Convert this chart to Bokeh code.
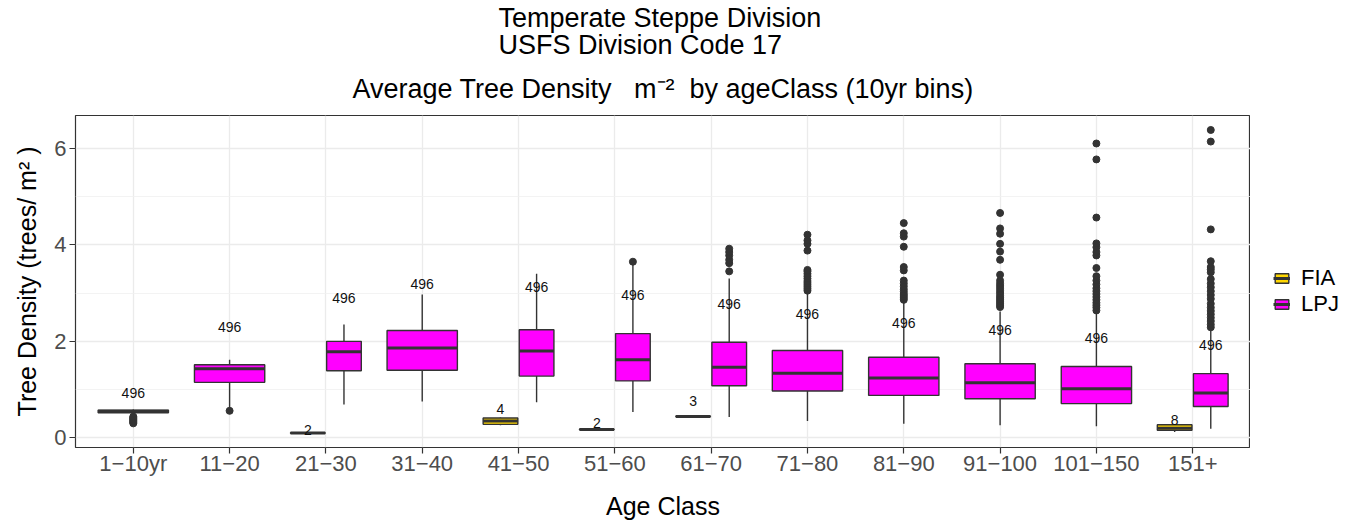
from bokeh.plotting import figure
from bokeh.layouts import row
from bokeh.models import ColumnDataSource, Range1d, FixedTicker, Title, Legend, LegendItem
from bokeh.embed import file_html
from bokeh.resources import INLINE
from bokeh.core.properties import value

categories = ["1−10yr", "11−20", "21−30", "31−40", "41−50", "51−60", "61−70",
              "71−80", "81−90", "91−100", "101−150", "151+"]

# LPJ boxes (one per age class)
lpj_low = [0.47, 0.62, 0.69, 0.755, 0.74, 0.535, 0.43, 0.35, 0.29, 0.26, 0.24, 0.19]
lpj_q1 = [0.52, 1.15, 1.39, 1.40, 1.28, 1.18, 1.08, 0.97, 0.88, 0.81, 0.71, 0.65]
lpj_med = [0.55, 1.43, 1.785, 1.86, 1.80, 1.62, 1.465, 1.34, 1.24, 1.14, 1.02, 0.93]
lpj_q3 = [0.575, 1.515, 2.00, 2.225, 2.24, 2.16, 1.98, 1.81, 1.67, 1.535, 1.48, 1.33]
lpj_high = [0.59, 1.62, 2.35, 2.97, 3.40, 3.58, 3.30, 3.02, 2.82, 2.62, 2.60, 2.25]
lpj_n = [496, 496, 496, 496, 496, 496, 496, 496, 496, 496, 496, 496]
lpj_label_y = [0.93, 2.29, 2.90, 3.18, 3.12, 2.96, 2.78, 2.57, 2.39, 2.24, 2.07, 1.92]
lpj_outliers = [
    [0.30, 0.32, 0.34, 0.36, 0.38, 0.40, 0.42, 0.44],
    [0.56],
    [],
    [],
    [],
    [3.65],
    [3.45, 3.62, 3.69, 3.78, 3.85, 3.92],
    [3.05, 3.09, 3.13, 3.17, 3.21, 3.25, 3.30, 3.35, 3.40, 3.45, 3.48, 3.88, 4.02, 4.09, 4.21],
    [2.86, 2.90, 2.94, 2.98, 3.03, 3.08, 3.14, 3.20, 3.26, 3.47, 3.54, 3.96, 4.17, 4.24, 4.45],
    [2.71, 2.75, 2.79, 2.83, 2.87, 2.91, 2.95, 3.00, 3.05, 3.10, 3.15, 3.20, 3.26, 3.38,
     3.69, 3.86, 4.02, 4.23, 4.34, 4.66],
    [2.64, 2.70, 2.75, 2.80, 2.86, 2.92, 2.98, 3.04, 3.10, 3.18, 3.26, 3.35, 3.52, 3.78,
     3.85, 3.95, 4.03, 4.565, 5.77, 6.10],
    [2.29, 2.35, 2.42, 2.49, 2.56, 2.63, 2.70, 2.78, 2.88, 2.96, 3.04, 3.12, 3.20, 3.29,
     3.43, 3.49, 3.54, 3.66, 4.32, 6.14, 6.38],
]

# FIA boxes (only some age classes)
fia_categories = ["21−30", "41−50", "51−60", "61−70", "151+"]
fia_low = [0.09, 0.26, 0.165, 0.435, 0.12]
fia_q1 = [0.095, 0.28, 0.17, 0.44, 0.155]
fia_med = [0.10, 0.35, 0.175, 0.445, 0.20]
fia_q3 = [0.105, 0.41, 0.18, 0.45, 0.27]
fia_high = [0.11, 0.42, 0.185, 0.455, 0.28]
fia_n = [2, 4, 2, 3, 8]
fia_label_y = [0.17, 0.60, 0.31, 0.76, 0.36]

series_names = ["FIA", "LPJ"]
y_ticks = [0, 2, 4, 6]

# ---- layout helpers ----
FONT = "Liberation Sans"
DARK = "#333333"
NB = "\u00a0"
idx = {c: i + 1 for i, c in enumerate(categories)}
dodged = set(fia_categories)
DODGE = 0.1875
W_SINGLE = 0.73
W_DODGED = 0.36
colors = {"FIA": "#FFD700", "LPJ": "#FF00FF"}


def make_source(xs, ws, low, q1, med, q3, high, n, ly):
    return ColumnDataSource(dict(
        x=xs, left=[x - w / 2 for x, w in zip(xs, ws)], right=[x + w / 2 for x, w in zip(xs, ws)],
        low=low, q1=q1, med=med, q3=q3, high=high, n=[str(v) for v in n], ly=ly))


lpj_x = [idx[c] + (DODGE if c in dodged else 0.0) for c in categories]
lpj_w = [W_DODGED if c in dodged else W_SINGLE for c in categories]
fia_x = [idx[c] - DODGE for c in fia_categories]
fia_w = [W_DODGED for _ in fia_categories]

lpj_src = make_source(lpj_x, lpj_w, lpj_low, lpj_q1, lpj_med, lpj_q3, lpj_high, lpj_n, lpj_label_y)
fia_src = make_source(fia_x, fia_w, fia_low, fia_q1, fia_med, fia_q3, fia_high, fia_n, fia_label_y)
sources = {"FIA": fia_src, "LPJ": lpj_src}

ox, oy = [], []
for x, outs in zip(lpj_x, lpj_outliers):
    for v in outs:
        ox.append(x)
        oy.append(v)

p = figure(width=1250, height=524, output_backend="svg", toolbar_location=None,
           x_range=Range1d(0.4, 12.6), y_range=Range1d(-0.2, 6.68),
           min_border_left=75, min_border_right=0, min_border_top=115, min_border_bottom=77,
           title=None)
p.background_fill_color = "white"
p.border_fill_color = "white"
p.outline_line_color = DARK
p.outline_line_width = 1.2

# grid
p.xgrid.ticker = FixedTicker(ticks=list(range(1, len(categories) + 1)))
p.xgrid.grid_line_color = "#EBEBEB"
p.xgrid.grid_line_width = 1.3
p.ygrid.ticker = FixedTicker(ticks=y_ticks, minor_ticks=[1, 3, 5])
p.ygrid.grid_line_color = "#EBEBEB"
p.ygrid.grid_line_width = 1.3
p.ygrid.minor_grid_line_color = "#F0F0F0"
p.ygrid.minor_grid_line_width = 0.8

# axes
p.xaxis.ticker = FixedTicker(ticks=list(range(1, len(categories) + 1)))
p.xaxis.major_label_overrides = {i + 1: c for i, c in enumerate(categories)}
p.yaxis.ticker = FixedTicker(ticks=y_ticks)
for ax in (p.xaxis, p.yaxis):
    ax.axis_line_color = None
    ax.major_tick_line_color = DARK
    ax.major_tick_line_width = 1.2
    ax.major_tick_out = 6
    ax.major_tick_in = 0
    ax.minor_tick_line_color = None
    ax.major_label_text_font = FONT
    ax.major_label_text_font_size = "22px"
    ax.major_label_text_color = "#4D4D4D"
    ax.axis_label_text_font = FONT
    ax.axis_label_text_font_size = "25px"
    ax.axis_label_text_font_style = "normal"
    ax.axis_label_text_color = "black"
p.xaxis.axis_label = "Age Class"
p.yaxis.axis_label = "Tree Density (trees/ m² )"
p.xaxis.major_label_standoff = -3
p.yaxis.major_label_standoff = 3
p.xaxis.axis_label_standoff = 13
p.yaxis.axis_label_standoff = 10

# boxes
for name in series_names:
    src = sources[name]
    p.segment(x0="x", y0="low", x1="x", y1="q1", source=src, line_color=DARK, line_width=1.4)
    p.segment(x0="x", y0="q3", x1="x", y1="high", source=src, line_color=DARK, line_width=1.4)
    p.quad(left="left", right="right", bottom="q1", top="q3", source=src,
           fill_color=colors[name], line_color=DARK, line_width=1.4)
    p.segment(x0="left", y0="med", x1="right", y1="med", source=src,
              line_color=DARK, line_width=3)

p.scatter(ox, oy, size=7, color=DARK, marker="circle")

for name in series_names:
    p.text(x="x", y="ly", text="n", source=sources[name], text_align="center",
           text_baseline="middle", text_font=value(FONT), text_font_size="14px",
           text_color="#111111")

# titles
t3 = Title(text="Average Tree Density" + NB * 3 + "m⁻²" + NB * 2 + "by ageClass (10yr bins)",
           align="center", text_font=FONT, text_font_size="27px", text_font_style="normal",
           text_color="black", standoff=23)
t12 = Title(text="Temperate Steppe Division\nUSFS Division Code 17", align="left", offset=423,
            text_color="black", text_font=FONT, text_font_size="27px", text_font_style="normal",
            text_line_height=0.91, standoff=0)
p.add_layout(t3, "above")
p.add_layout(t12, "above")

# legend panel (separate narrow figure on the right; its view range shows no boxes,
# the legend keys reuse the real FIA / LPJ box styling)
lg = figure(width=98, height=524, output_backend="svg", toolbar_location=None,
            x_range=Range1d(-20, -19), y_range=Range1d(-20, -19), min_border=0,
            x_axis_location=None, y_axis_location=None, title=None)
lg.outline_line_color = None
lg.grid.visible = False
lg.background_fill_color = "white"
lg.border_fill_color = "white"
items = []
for name in series_names:
    src = sources[name]
    qr = lg.quad(left="left", right="right", bottom="q1", top="q3", source=src,
                 fill_color=colors[name], line_color=DARK, line_width=1.4)
    mr = lg.segment(x0="left", y0="med", x1="right", y1="med", source=src,
                    line_color=DARK, line_width=3)
    items.append(LegendItem(label=name, renderers=[qr, mr]))
legend = Legend(items=items, location=(23, 130), padding=0, margin=0, spacing=0,
                label_height=22, glyph_height=12, glyph_width=17, label_standoff=11,
                label_text_font=FONT, label_text_font_size="22px", label_text_color="black",
                border_line_color=None, background_fill_alpha=0)
lg.add_layout(legend, "center")

layout = row(p, lg)
open("out.html", "w").write(file_html(layout, INLINE))
